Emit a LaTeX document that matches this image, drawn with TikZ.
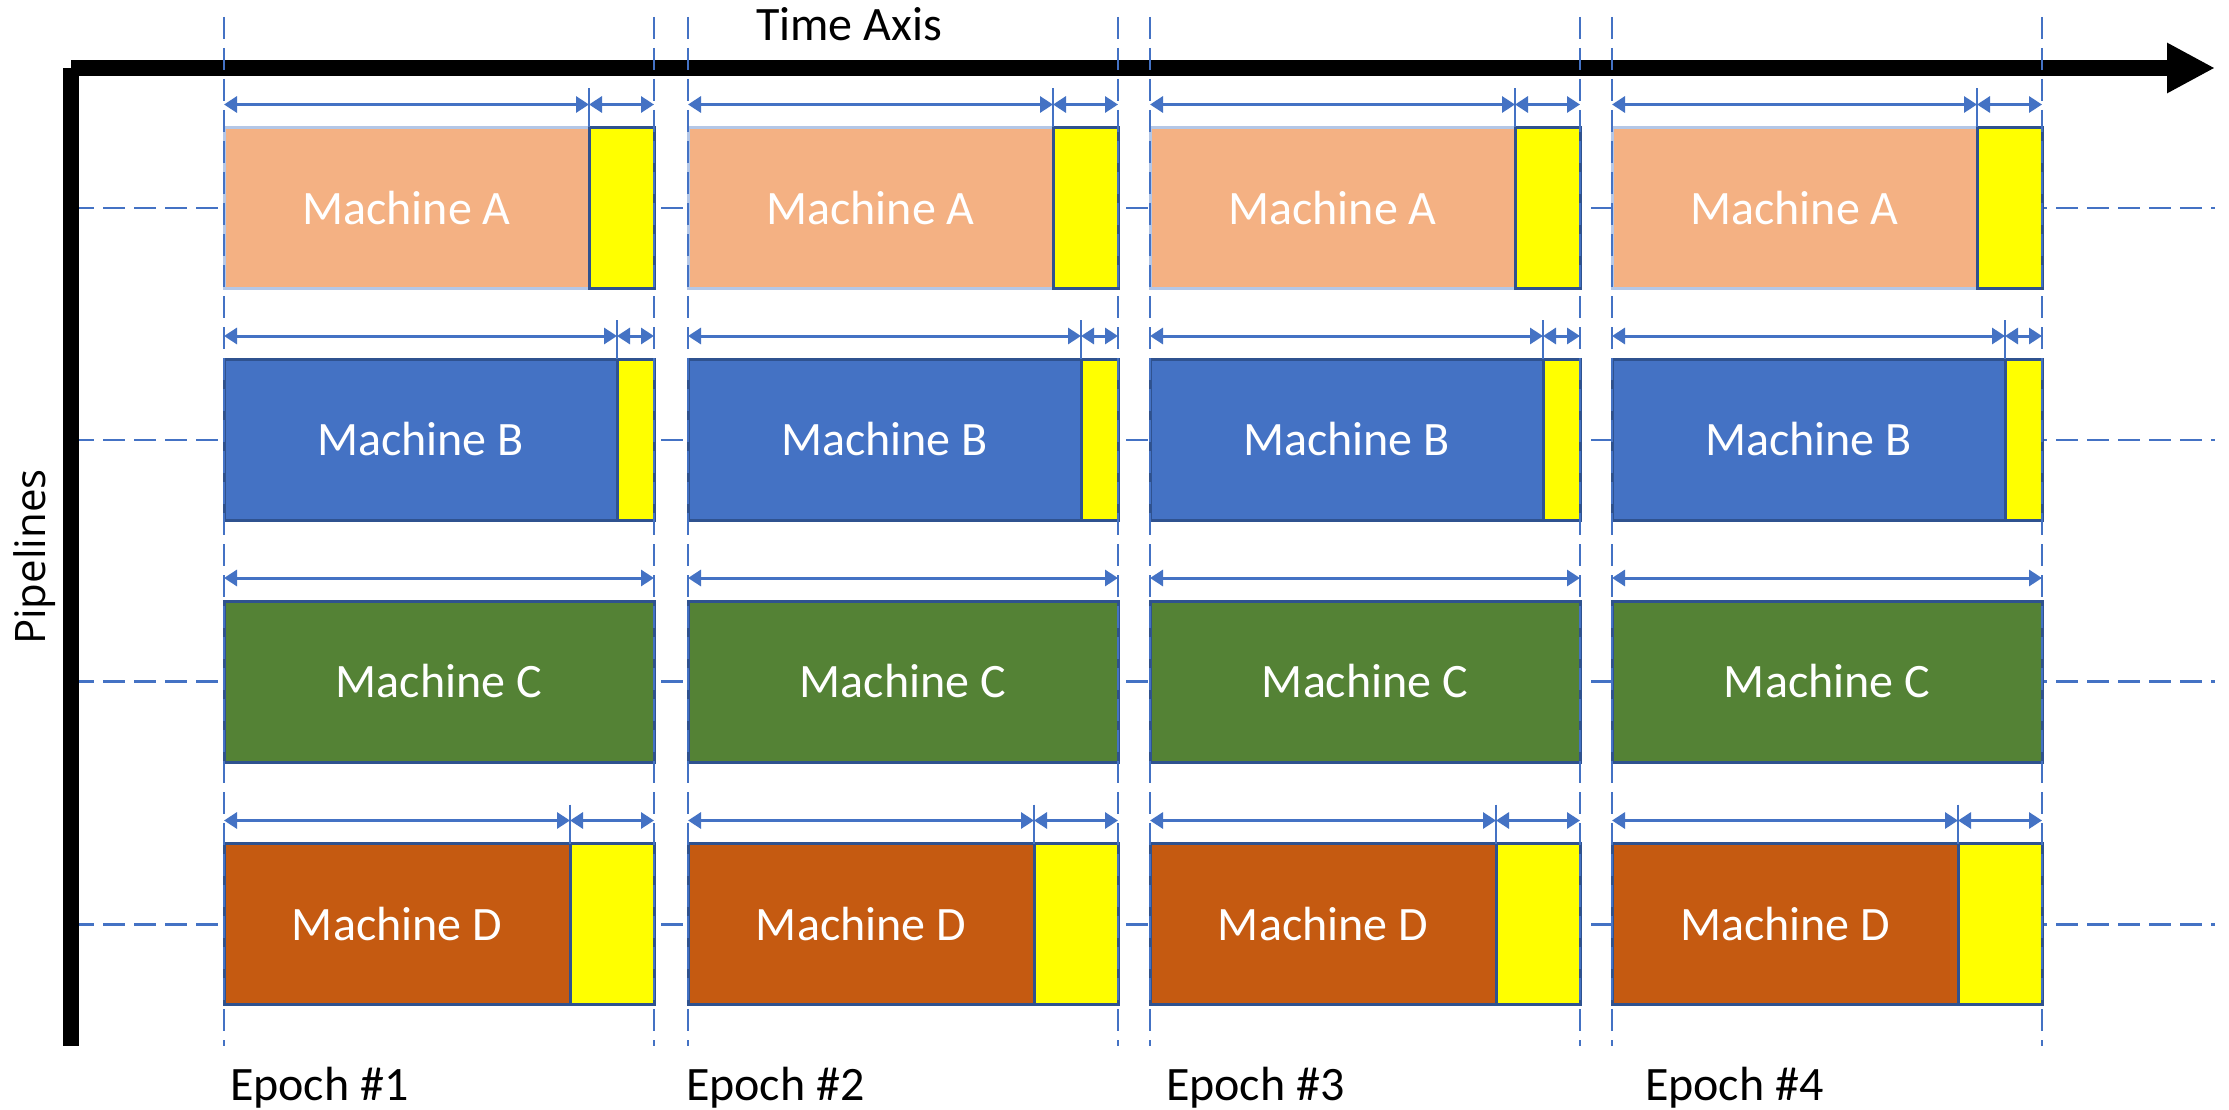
\documentclass[tikz,border=0pt]{standalone}
\usepackage{fontspec}
\setmainfont{Carlito}
\newfontfamily\pipefont{Open Sans}
\usetikzlibrary{arrows.meta}
\definecolor{accblue}{HTML}{4472C4}
\definecolor{edgeblue}{HTML}{2F528F}
\definecolor{lightedge}{HTML}{B4C7E7}
\definecolor{fillA}{HTML}{F4B183}
\definecolor{fillB}{HTML}{4472C4}
\definecolor{fillC}{HTML}{548235}
\definecolor{fillD}{HTML}{C55A11}
\definecolor{idle}{HTML}{FFFF00}

\begin{document}
\begin{tikzpicture}[x=1pt,y=-1pt,
  every node/.style={inner sep=0pt, outer sep=0pt},
  guide/.style={accblue, line width=2.5pt, dash pattern=on 22pt off 9pt},
  dim/.style={accblue, line width=3pt,
    {Triangle[length=13pt,width=16pt]}-{Triangle[length=13pt,width=16pt]}},
  tick/.style={accblue, line width=1.5pt},
  work/.style={draw=edgeblue, line width=3pt, minimum height=161pt,
    anchor=north west, text=white, font=\fontsize{48}{56}\selectfont},
  wait/.style={draw=edgeblue, fill=idle, line width=3pt,
    minimum height=161pt, anchor=north west},
  axis/.style={line width=16pt, black},
  lbl/.style={font=\fontsize{48}{56}\selectfont, text=black}
]
\useasboundingbox[fill=white] (0,0) rectangle (2229,1110);

% pipeline guide lines (behind the boxes)
\foreach \r/\c in {A/208, B/440, C/681.5, D/924.5}{
  \coordinate (rs\r) at (72,\c);
  \coordinate (re\r) at (2215,\c);
  \draw[guide] (rs\r) -- (re\r);
}

% axes
\coordinate (origin) at (71,68);
\coordinate (xtip) at (2215,68);
\coordinate (yend) at (71,1045.7);
\draw[axis, -{Triangle[length=48pt,width=47pt]}] (origin) -- (xtip);
\draw[axis] (origin) -- (yend);

\node[lbl, anchor=base west] (timelabel) at (756,41) {Time Axis};
\node[font=\pipefont\fontsize{42}{50}\selectfont, rotate=90, anchor=base]
  (pipelabel) at (45,557) {Pipelines};

% machine blocks, idle blocks and their dimension arrows
\foreach \r/\top/\yw/\fc/\ec in {A/127.5/65/fillA/lightedge,
                                 B/359/37/fillB/edgeblue,
                                 C/601/0/fillC/edgeblue,
                                 D/843.5/84/fillD/edgeblue}{
  \foreach \e/\x in {1/224, 2/688, 3/1150, 4/1612}{
    \pgfmathsetmacro{\ww}{430-\yw}
    \node[work, fill=\fc, draw=\ec, minimum width=\ww pt] (\r\e) at (\x,\top) {Machine \r};
    \draw[dim] ([yshift=23pt]\r\e.north west) -- ([yshift=23pt]\r\e.north east);
    \ifnum\yw>0
      \node[wait, minimum width=\yw pt] (y\r\e) at (\x+\ww,\top) {};
      \draw[tick] ([yshift=39pt]y\r\e.north west) -- (y\r\e.north west);
      \draw[dim] ([yshift=23pt]y\r\e.north west) -- ([yshift=23pt]y\r\e.north east);
    \fi
  }
}

% epoch boundaries
\foreach \e/\x in {1/224, 2/688, 3/1150, 4/1612}{
  \coordinate (es\e t) at (\x,17);
  \coordinate (es\e b) at (\x,1045.7);
  \coordinate (ee\e t) at (\x+430,17);
  \coordinate (ee\e b) at (\x+430,1045.7);
  \draw[guide] (es\e t) -- (es\e b);
  \draw[guide] (ee\e t) -- (ee\e b);
}

\node[lbl, anchor=base west] (ep1) at (230,1100) {Epoch \#1};
\node[lbl, anchor=base west] (ep2) at (686,1100) {Epoch \#2};
\node[lbl, anchor=base west] (ep3) at (1166,1100) {Epoch \#3};
\node[lbl, anchor=base west] (ep4) at (1645,1100) {Epoch \#4};
\end{tikzpicture}
\end{document}
